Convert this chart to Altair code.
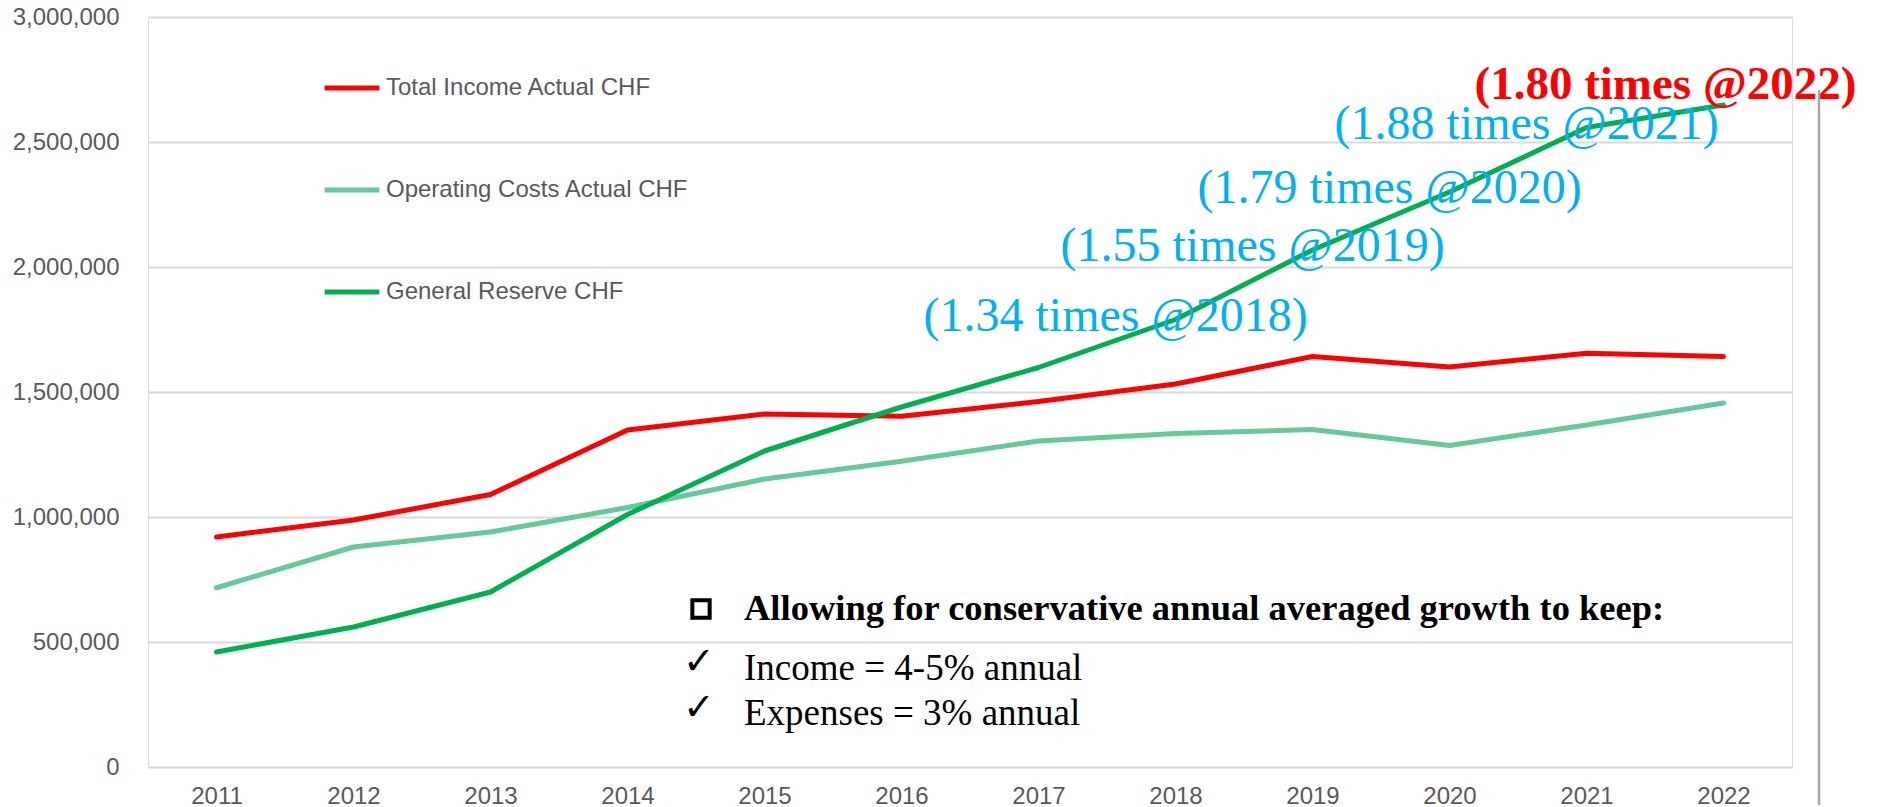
import altair as alt
import pandas as pd

# ---------------- data ----------------
years = [str(y) for y in range(2011, 2023)]
income = [920000, 988000, 1090000, 1348000, 1412000, 1403000, 1462000, 1532000, 1642000, 1600000, 1655000, 1642000]
costs = [717000, 880000, 940000, 1038000, 1152000, 1223000, 1304000, 1334000, 1350000, 1286000, 1368000, 1456000]
reserve = [460000, 560000, 700000, 1010000, 1264000, 1440000, 1598000, 1790000, 2068000, 2300000, 2558000, 2648000]

series_names = ["Total Income Actual CHF", "Operating Costs Actual CHF", "General Reserve CHF"]
series_colors = ["#FF0000", "#66C999", "#00B050"]

y_ticks = [0, 500000, 1000000, 1500000, 2000000, 2500000, 3000000]

ratio_years = ["2018", "2019", "2020", "2021"]
ratio_labels = ["(1.34 times @2018)", "(1.55 times @2019)", "(1.79 times @2020)", "(1.88 times @2021)"]
highlight_year = "2022"
highlight_label = "(1.80 times @2022)"

note_title = "Allowing for conservative annual averaged growth to keep:"
note_items = ["Income = 4-5% annual", "Expenses = 3% annual"]

# ---------------- tables ----------------
rows = []
for name, vals in zip(series_names, [income, costs, reserve]):
    for yr, v in zip(years, vals):
        rows.append({"year": yr, "value": v, "series": name})
df = pd.DataFrame(rows)

res_map = dict(zip(years, reserve))
ann_df = pd.DataFrame({"year": ratio_years, "value": [res_map[y] for y in ratio_years], "label": ratio_labels})
hl_df = pd.DataFrame({"year": [highlight_year], "value": [res_map[highlight_year]], "label": [highlight_label]})

W, H = 1644, 750

x_enc = alt.X("year:O", scale=alt.Scale(type="point", padding=0.5, domain=years),
              axis=alt.Axis(title=None, labelAngle=0, domain=False, ticks=False, tickSize=0,
                            labelPadding=17, labelFont="Liberation Sans", labelFontSize=24,
                            labelColor="#595959", grid=False))
y_enc = alt.Y("value:Q", scale=alt.Scale(domain=[0, 3000000], nice=False, zero=True),
              axis=alt.Axis(title=None, values=y_ticks, format=",d", domain=False, ticks=False,
                            tickSize=0, labelPadding=29, labelFont="Liberation Sans",
                            labelFontSize=24, labelColor="#595959", grid=True,
                            gridColor="#D9D9D9", gridWidth=2))

base = alt.Chart(df)

lines = base.mark_line(strokeWidth=5, strokeCap="round", strokeJoin="round").encode(
    x=x_enc, y=y_enc,
    color=alt.Color("series:N", sort=series_names,
                    scale=alt.Scale(domain=series_names, range=series_colors),
                    legend=alt.Legend(title=None, orient="none", legendX=174, legendY=41,
                                      direction="vertical", symbolType="stroke",
                                      symbolStrokeWidth=5, symbolSize=3000,
                                      labelFont="Liberation Sans", labelFontSize=24,
                                      labelColor="#595959", labelOffset=4, rowPadding=60,
                                      padding=0, labelLimit=600)),
)

ann = alt.Chart(ann_df).mark_text(align="left", baseline="alphabetic", dx=-252, dy=11,
                                  font="Liberation Serif", fontSize=48, color="#00B0F0").encode(
    x=alt.X("year:O", scale=alt.Scale(type="point", padding=0.5, domain=years)),
    y=alt.Y("value:Q"), text="label:N")

hl = alt.Chart(hl_df).mark_text(align="left", baseline="alphabetic", dx=-249, dy=-6,
                                font="Liberation Serif", fontSize=47, fontWeight="bold",
                                color="#FF0000").encode(
    x=alt.X("year:O", scale=alt.Scale(type="point", padding=0.5, domain=years)),
    y=alt.Y("value:Q"), text="label:N")

# notes text box
title_df = pd.DataFrame({"t": [note_title]})
items_df = pd.DataFrame({"t": note_items, "yy": [663, 708]})
checks_df = pd.DataFrame({"t": ["\u2713", "\u2713"], "yy": [657, 703]})

box = alt.Chart(pd.DataFrame({"k": [0]})).mark_point(shape="square", filled=False, stroke="black",
                                                      strokeWidth=4, size=300, opacity=1).encode(
    x=alt.value(553), y=alt.value(592))
title_txt = alt.Chart(title_df).mark_text(align="left", baseline="alphabetic", font="Liberation Serif",
                                          fontSize=36.5, fontWeight="bold", color="black").encode(
    x=alt.value(596), y=alt.value(603), text="t:N")
items_txt = alt.Chart(items_df).mark_text(align="left", baseline="alphabetic", font="Liberation Serif",
                                          fontSize=37, color="black").encode(
    x=alt.value(596), y=alt.Y("yy:Q", scale=None), text="t:N")
checks_txt = alt.Chart(checks_df).mark_text(align="center", baseline="alphabetic", font="DejaVu Sans",
                                            fontSize=38, fontWeight="bold", color="black").encode(
    x=alt.value(551), y=alt.Y("yy:Q", scale=None), text="t:N")

vline = alt.Chart(pd.DataFrame({"k": [0]})).mark_rule(color="#A6A6A6", strokeWidth=2.5).encode(
    x=alt.value(1671), y=alt.value(73), y2=alt.value(796))

chart = alt.layer(lines, ann, hl, box, title_txt, items_txt, checks_txt, vline).properties(
    width=W, height=H,
    autosize=alt.AutoSizeParams(type="none"),
    padding={"left": 140, "top": 9, "right": 79, "bottom": 38},
).configure_view(stroke=None).configure(background="white")

chart.save("out.html", embed_options={"renderer": "svg", "actions": False})
